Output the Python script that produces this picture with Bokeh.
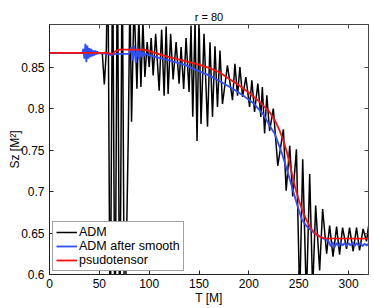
from bokeh.plotting import figure
from bokeh.models import Range1d, LinearAxis, FixedTicker, Legend, LegendItem, Title
from bokeh.embed import file_html
from bokeh.resources import INLINE

# ---- data ----
adm_t = [0, 50, 53, 55, 57,
         58.5, 60.9, 63.3, 65.7, 68.1, 70.5, 72.9, 75.3,
         79, 80.7, 82.3, 84.8, 87.7, 89.6, 91.7, 93.7, 95.7, 98, 100, 102, 104, 106.5,
         110, 112.5, 115, 117, 119, 121.5, 124, 127, 130, 132, 134.6, 137, 140, 142,
         143.7, 146, 148, 150, 152, 155, 158.5, 161, 163.5, 166, 168.5, 171, 173.5,
         178.5, 183.6, 186, 188.6, 191, 193.7, 197, 200.7, 203, 205.7, 209, 212, 213.5,
         215.8, 218, 220.8, 224.5, 229, 234.6, 237.4, 241, 244, 247.7, 251, 254, 257.7,
         261, 264, 267, 271, 274, 278, 281, 284.4, 288, 291, 294, 298, 301, 304.6, 308,
         311, 314.6, 318, 320]
adm_v = [0.867, 0.867, 0.866, 0.829, 0.87,
         1.0, 0.5, 1.0, 0.5, 1.0, 0.5, 1.0, 0.5,
         0.766, 0.94, 0.784, 0.93, 0.824, 0.91, 0.826, 0.905, 0.838, 0.88, 0.85, 0.885, 0.84, 0.89,
         0.8215, 0.895, 0.8155, 0.899, 0.8175, 0.89, 0.835, 0.88, 0.83, 0.874, 0.8236, 0.885, 0.82, 0.9,
         0.79, 0.905, 0.761, 0.91, 0.7815, 0.89, 0.778, 0.88, 0.79, 0.875, 0.802, 0.87, 0.8055,
         0.852, 0.81, 0.854, 0.8155, 0.85, 0.814, 0.838, 0.802, 0.834, 0.796, 0.83, 0.79, 0.826,
         0.77, 0.816, 0.773, 0.80, 0.731, 0.775, 0.701, 0.755, 0.694, 0.751, 0.57, 0.739, 0.57,
         0.721, 0.58, 0.683, 0.605, 0.679, 0.625, 0.659, 0.6215, 0.6577, 0.624, 0.6565, 0.631, 0.6565, 0.628, 0.6565,
         0.629, 0.655, 0.64, 0.658]

smooth_t = [0, 33, 34, 35, 36, 37, 38, 39, 40, 41, 42, 43, 44, 45, 46, 47, 48, 49, 50,
            58, 62, 66, 80, 82, 83.5, 85, 86.5, 88, 89.5, 91, 92.5, 94, 95.5, 97,
            100, 120, 137, 145, 160, 170, 185, 195, 205, 215, 221, 226, 233, 238, 243, 248, 253, 258,
            265, 270, 276, 280, 282, 284, 286, 288, 290, 292, 294, 296, 298, 300, 302,
            304, 306, 308, 310, 312, 314, 316, 318, 320]
smooth_v = [0.867, 0.867, 0.872, 0.86, 0.878, 0.856, 0.876, 0.86, 0.873, 0.862, 0.872, 0.863, 0.87, 0.864, 0.87, 0.865, 0.869, 0.866, 0.867,
            0.866, 0.8645, 0.866, 0.866, 0.874, 0.858, 0.876, 0.855, 0.872, 0.86, 0.87, 0.862, 0.868, 0.864, 0.866,
            0.864, 0.858, 0.852, 0.8476, 0.840, 0.8336, 0.823, 0.815, 0.806, 0.792, 0.779, 0.7695, 0.7466, 0.727, 0.7066, 0.686, 0.6665, 0.658,
            0.6505, 0.647, 0.6425, 0.64, 0.634, 0.639, 0.633, 0.638, 0.634, 0.639, 0.635, 0.638, 0.634, 0.638, 0.635,
            0.639, 0.634, 0.638, 0.635, 0.638, 0.634, 0.637, 0.635, 0.637]

pseudo_t = [0, 58, 63, 66, 70, 95, 120, 137.5, 150, 160, 170, 180, 190, 200, 210, 220, 226, 231, 235, 238,
            242, 246, 250, 254, 258, 262, 266, 271, 276, 320]
pseudo_v = [0.867, 0.867, 0.8655, 0.869, 0.871, 0.871, 0.862, 0.857, 0.853, 0.849, 0.844, 0.836, 0.828, 0.819,
            0.809, 0.797, 0.786, 0.773, 0.760, 0.748, 0.728, 0.707, 0.690, 0.676, 0.665, 0.656, 0.650, 0.6455,
            0.6435, 0.6433]

x_ticks = [0, 50, 100, 150, 200, 250, 300]
y_ticks = [0.6, 0.65, 0.7, 0.75, 0.8, 0.85]
y_labels = {0.6: "0.6", 0.65: "0.65", 0.7: "0.7", 0.75: "0.75", 0.8: "0.8", 0.85: "0.85"}

FONT = "Liberation Sans"

p = figure(width=373, height=307, output_backend="svg", toolbar_location=None,
           x_range=Range1d(0, 320), y_range=Range1d(0.6, 0.9013),
           min_border_left=49, min_border_right=5, min_border_top=24, min_border_bottom=32)
p.title = Title(text="r = 80", align="center", text_font=FONT, text_font_size="11px",
                text_font_style="normal", text_color="#000000", standoff=4, offset=0)
p.xgrid.visible = False
p.ygrid.visible = False
p.outline_line_color = "#444444"
p.outline_line_width = 1

for ax in (p.xaxis[0], p.yaxis[0]):
    ax.major_tick_in = 4
    ax.major_tick_out = 0
    ax.minor_tick_line_color = None
    ax.axis_line_color = "#222222"
    ax.major_tick_line_color = "#222222"
    ax.major_label_text_font = FONT
    ax.major_label_text_font_size = "12px"
    ax.major_label_text_color = "#000000"
    ax.axis_label_text_font = FONT
    ax.axis_label_text_font_size = "12px"
    ax.axis_label_text_font_style = "normal"
    ax.axis_label_text_color = "#000000"

p.xaxis[0].ticker = FixedTicker(ticks=x_ticks)
p.yaxis[0].ticker = FixedTicker(ticks=y_ticks)
p.yaxis[0].major_label_overrides = y_labels
p.xaxis[0].axis_label = "T [M]"
p.yaxis[0].axis_label = "Sz [M²]"
p.xaxis[0].major_label_standoff = 4
p.yaxis[0].major_label_standoff = 5
p.xaxis[0].axis_label_standoff = 0
p.yaxis[0].axis_label_standoff = -4

top_ax = LinearAxis(ticker=FixedTicker(ticks=x_ticks), major_tick_in=4, major_tick_out=0,
                    minor_tick_line_color=None, major_label_text_font_size="1px",
                    major_label_text_color=None, major_label_standoff=0, axis_label_standoff=0,
                    axis_line_color="#444444", major_tick_line_color="#444444")
right_ax = LinearAxis(ticker=FixedTicker(ticks=y_ticks), major_tick_in=4, major_tick_out=0,
                      minor_tick_line_color=None, major_label_text_font_size="1px",
                      major_label_text_color=None, major_label_standoff=0, axis_label_standoff=0,
                      axis_line_color="#444444", major_tick_line_color="#444444")
p.add_layout(top_ax, "above")
p.add_layout(right_ax, "right")

r_adm = p.line(adm_t, adm_v, line_color="#000000", line_width=1.5)
r_smooth = p.line(smooth_t, smooth_v, line_color="#2f4fff", line_width=1.8)
r_pseudo = p.line(pseudo_t, pseudo_v, line_color="#ff1010", line_width=1.8)

legend = Legend(items=[LegendItem(label="ADM", renderers=[r_adm]),
                       LegendItem(label="ADM after smooth", renderers=[r_smooth]),
                       LegendItem(label="psudotensor", renderers=[r_pseudo])],
                location="bottom_left")
legend.label_text_font = FONT
legend.label_text_font_size = "12.5px"
legend.label_text_color = "#000000"
legend.glyph_width = 21
legend.glyph_height = 14
legend.label_height = 14
legend.label_standoff = 2
legend.spacing = 0
legend.padding = 3
legend.margin = 3
legend.border_line_color = "#444444"
legend.border_line_width = 1
legend.background_fill_alpha = 1
p.add_layout(legend, "center")

open("out.html", "w").write(file_html(p, INLINE))
